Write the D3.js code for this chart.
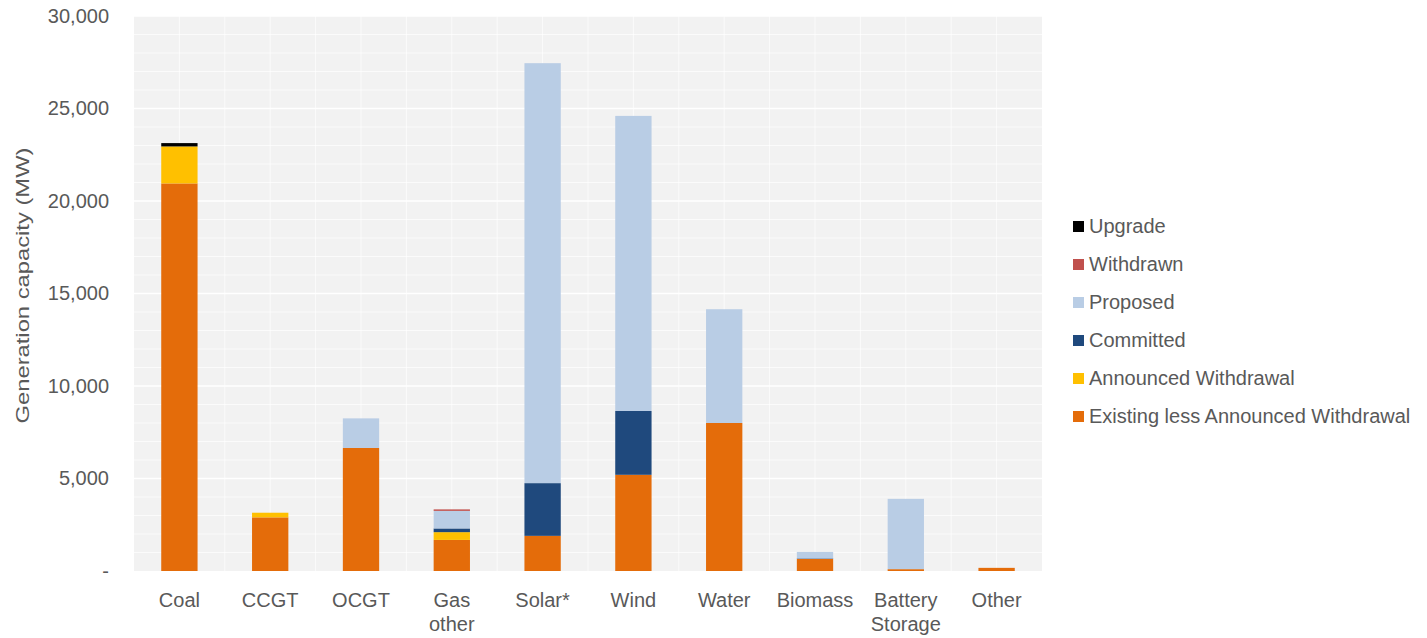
<!DOCTYPE html>
<html>
<head>
<meta charset="utf-8">
<script src="https://cdn.jsdelivr.net/npm/d3@7"></script>
<style>
  body { margin: 0; background: #fff; }
  text { font-family: "Liberation Sans", Arial, sans-serif; fill: #595959; }
</style>
</head>
<body>
<div id="chart"></div>
<script>
// DATA
const categories = ["Coal", "CCGT", "OCGT", "Gas other", "Solar*", "Wind", "Water", "Biomass", "Battery Storage", "Other"];
const catLines = [["Coal"], ["CCGT"], ["OCGT"], ["Gas", "other"], ["Solar*"], ["Wind"], ["Water"], ["Biomass"], ["Battery", "Storage"], ["Other"]];

const existingLessWithdrawal = [20950, 2900, 6650, 1680, 1900, 5200, 8000, 650, 100, 170];
const announcedWithdrawal    = [2000, 250, 0, 420, 0, 0, 0, 0, 0, 0];
const committed              = [0, 0, 0, 200, 2850, 3450, 0, 30, 0, 0];
const proposed               = [0, 0, 1600, 950, 22700, 15950, 6150, 350, 3800, 0];
const withdrawn              = [0, 0, 0, 80, 0, 0, 0, 0, 0, 0];
const upgrade                = [180, 0, 0, 0, 0, 0, 0, 0, 0, 0];

const seriesNames = ["Existing less Announced Withdrawal", "Announced Withdrawal", "Committed", "Proposed", "Withdrawn", "Upgrade"];
const seriesValues = [existingLessWithdrawal, announcedWithdrawal, committed, proposed, withdrawn, upgrade];
const seriesColors = ["#e46c0a", "#ffc000", "#1f497d", "#b9cde5", "#c0504d", "#000000"];

const yTicks = [0, 5000, 10000, 15000, 20000, 25000, 30000];

// SIZES
const width = 1427, height = 638;
const plot = { left: 134, right: 1042, top: 16, bottom: 571 };

// build table for stack
const table = categories.map((c, i) => {
  const row = { cat: c };
  seriesNames.forEach((s, j) => row[s] = seriesValues[j][i]);
  return row;
});
const stacked = d3.stack().keys(seriesNames)(table);

// SCALES
const xScale = d3.scaleBand()
  .domain(categories)
  .range([plot.left, plot.right])
  .paddingInner(0.6)
  .paddingOuter(0.3);

const yScale = d3.scaleLinear()
  .domain([0, 30000])
  .range([plot.bottom, plot.top]);

const colorScale = d3.scaleOrdinal().domain(seriesNames).range(seriesColors);

const svg = d3.select("#chart").append("svg")
  .attr("width", width)
  .attr("height", height);

// PLOT BACKGROUND
svg.append("rect")
  .attr("x", plot.left)
  .attr("y", plot.top)
  .attr("width", plot.right - plot.left)
  .attr("height", plot.bottom - plot.top)
  .attr("fill", "#f2f2f2");

// GRID
svg.append("g")
  .selectAll("line")
  .data(d3.range(1000, 30001, 1000))
  .join("line")
  .attr("x1", plot.left)
  .attr("x2", plot.right)
  .attr("y1", d => yScale(d))
  .attr("y2", d => yScale(d))
  .attr("stroke", "#ffffff")
  .attr("stroke-opacity", d => d % 5000 === 0 ? 1 : 0.7)
  .attr("stroke-width", d => d % 5000 === 0 ? 1.5 : 1);

const step = xScale.step();
const vLines = d3.range(1, categories.length * 2).map(k => plot.left + k * step / 2);
svg.append("g")
  .selectAll("line")
  .data(vLines)
  .join("line")
  .attr("x1", d => d)
  .attr("x2", d => d)
  .attr("y1", plot.top)
  .attr("y2", plot.bottom)
  .attr("stroke", "#ffffff")
  .attr("stroke-opacity", 0.7)
  .attr("stroke-width", 1);

// BARS
svg.append("g")
  .selectAll("g")
  .data(stacked)
  .join("g")
  .attr("fill", d => colorScale(d.key))
  .selectAll("rect")
  .data(d => d)
  .join("rect")
  .attr("x", d => xScale(d.data.cat))
  .attr("width", xScale.bandwidth())
  .attr("y", d => yScale(d[1]))
  .attr("height", d => yScale(d[0]) - yScale(d[1]));

// Y AXIS
const yAxis = d3.axisLeft(yScale)
  .tickValues(yTicks)
  .tickSize(0)
  .tickPadding(0)
  .tickFormat(d => d === 0 ? "-" : d3.format(",")(d));

svg.append("g")
  .attr("transform", `translate(${plot.left - 25}, 0)`)
  .call(yAxis)
  .call(g => g.select(".domain").remove())
  .selectAll("text")
  .attr("font-size", 20)
  .attr("fill", "#595959")
  .style("font-family", "'Liberation Sans', Arial, sans-serif");

svg.append("text")
  .attr("transform", `translate(29, ${(plot.top + plot.bottom) / 2 - 8}) rotate(-90)`)
  .attr("text-anchor", "middle")
  .attr("font-size", 18)
  .attr("textLength", 276)
  .attr("lengthAdjust", "spacingAndGlyphs")
  .text("Generation capacity (MW)");

// X LABELS
const xLab = svg.append("g")
  .selectAll("text")
  .data(categories)
  .join("text")
  .attr("text-anchor", "middle")
  .attr("font-size", 20)
  .attr("y", 607);
xLab.each(function(d, i) {
  d3.select(this).selectAll("tspan")
    .data(catLines[i])
    .join("tspan")
    .attr("x", xScale(d) + xScale.bandwidth() / 2)
    .attr("dy", (t, k) => k === 0 ? 0 : 24)
    .text(t => t);
});

// LEGEND
const legendOrder = seriesNames.slice().reverse();
const legend = svg.append("g")
  .attr("transform", "translate(1073, 226)")
  .selectAll("g")
  .data(legendOrder)
  .join("g")
  .attr("transform", (d, i) => `translate(0, ${i * 38})`);

legend.append("rect")
  .attr("x", 0)
  .attr("y", -5)
  .attr("width", 11)
  .attr("height", 11)
  .attr("fill", d => colorScale(d));

legend.append("text")
  .attr("x", 16)
  .attr("y", 7)
  .attr("font-size", 20)
  .text(d => d);
</script>
</body>
</html>
